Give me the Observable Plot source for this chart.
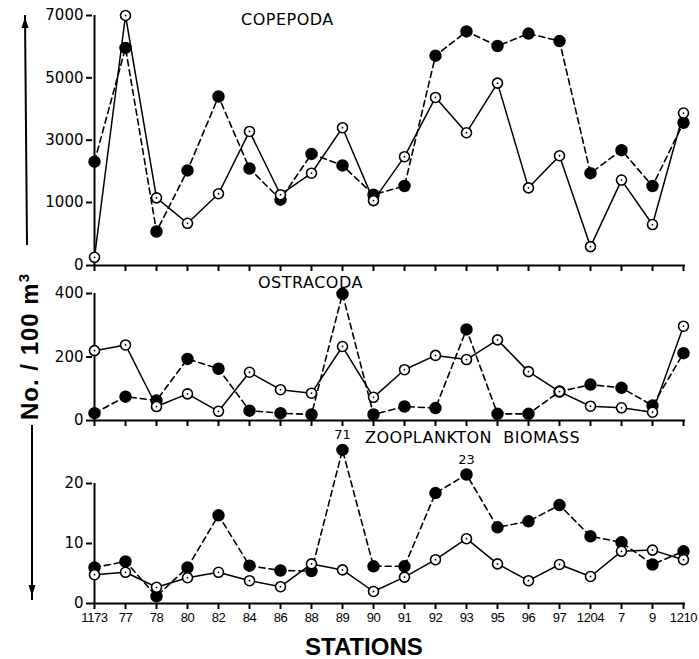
<!DOCTYPE html>
<html><head><meta charset="utf-8">
<script src="https://cdn.jsdelivr.net/npm/d3@7"></script>
<script src="https://cdn.jsdelivr.net/npm/@observablehq/plot@0.6"></script>
<style>
body{margin:0;background:#fff;}
#chart{position:relative;width:699px;height:659px;background:#fff;}
#chart > svg{position:absolute;left:0;top:0;}
#chart [aria-label^="x-axis"] path, #chart [aria-label^="x-axis"] line,
#chart [aria-label^="y-axis"] path, #chart [aria-label^="y-axis"] line{stroke-width:2;stroke:#000;}
#chart [aria-label^="y-axis"] text{font-size:15px;}
#chart [aria-label^="x-axis"] text{font-size:13px;font-family:"Liberation Sans",Arial,sans-serif;letter-spacing:-0.4px;}
</style></head><body><div id="chart"></div>
<script>
const W = 699, H = 659;
const stations = ["1173","77","78","80","82","84","86","88","89","90","91","92","93","95","96","97","1204","7","9","1210"];

const copepodaOpen   = [130, 7000, 1150, 670, 1280, 3280, 1250, 1940, 3400, 1060, 2470, 4370, 3240, 4830, 1470, 2500, 300, 1720, 650, 3870];
const copepodaFilled = [2310, 5960, 540, 2030, 4400, 2090, 1090, 2560, 2190, 1250, 1530, 5710, 6490, 6020, 6420, 6180, 1940, 2680, 1530, 3560];
const copepodaTicks  = [0, 1000, 3000, 5000, 7000];

const ostracodaOpen   = [220, 238, 44, 84, 29, 152, 97, 86, 233, 73, 160, 205, 192, 254, 154, 91, 45, 40, 26, 297];
const ostracodaFilled = [23, 75, 63, 194, 163, 31, 23, 19, 399, 19, 44, 39, 287, 21, 21, 91, 113, 103, 47, 212];
const ostracodaTicks  = [0, 200, 400];

const biomassOpen   = [4.8, 5.2, 2.7, 4.3, 5.2, 3.8, 2.8, 6.6, 5.6, 2.0, 4.4, 7.3, 10.8, 6.6, 3.8, 6.5, 4.5, 8.7, 8.9, 7.3];
const biomassFilled = [6.0, 7.0, 1.2, 6.0, 14.7, 6.3, 5.5, 5.4, 25.6, 6.2, 6.2, 18.4, 21.5, 12.7, 13.7, 16.4, 11.2, 10.2, 6.5, 8.7];
const biomassTicks  = [0, 10, 20];
const biomassNotes  = [{s: "89", v: 25.6, t: "71"}, {s: "93", v: 21.5, t: "23"}];

const titles = [
  {t: "COPEPODA", x: 241, y: 25},
  {t: "OSTRACODA", x: 258, y: 288},
  {t: "ZOOPLANKTON  BIOMASS", x: 365, y: 443}
];

function panel({open, filled, domain, range, ticks, showX, notes = []}) {
  const ro = stations.map((s, i) => ({s, v: open[i]}));
  const rf = stations.map((s, i) => ({s, v: filled[i]}));
  const bottom = range[0], top = range[range.length - 1];
  return Plot.plot({
    width: W, height: H,
    marginLeft: 92, marginRight: 14, marginTop: top, marginBottom: H - bottom,
    style: {background: "transparent", fontFamily: "DejaVu Sans, sans-serif", fontSize: "14px", color: "#000", overflow: "visible"},
    x: {type: "point", domain: stations, range: [92, 685], padding: 0, align: 0.5, tickSize: 6, tickPadding: 3,
        tickFormat: showX ? (d => d) : (() => ""), label: null},
    y: {type: "linear", domain, range, ticks, tickSize: 6, tickPadding: 3, label: null, tickFormat: d => String(d)},
    marks: [
      Plot.ruleY([domain[0]], {stroke: "#000", strokeWidth: 2}),
      Plot.ruleX([stations[0]], {y1: domain[0], y2: domain[domain.length - 1], stroke: "#000", strokeWidth: 2}),
      Plot.line(rf, {x: "s", y: "v", stroke: "#000", strokeWidth: 1.6, strokeDasharray: "6,4"}),
      Plot.line(ro, {x: "s", y: "v", stroke: "#000", strokeWidth: 1.5}),
      Plot.dot(rf, {x: "s", y: "v", r: 5.5, fill: "#000", stroke: "#000"}),
      Plot.dot(ro, {x: "s", y: "v", r: 5, fill: "#fff", stroke: "#000", strokeWidth: 1.6}),
      Plot.dot(ro, {x: "s", y: "v", r: 0.9, fill: "#000"}),
      Plot.text(notes, {x: "s", y: "v", text: "t", dy: -15, fontSize: 13, fill: "#000"})
    ]
  });
}

const chart = document.getElementById("chart");
chart.append(panel({open: copepodaOpen, filled: copepodaFilled, domain: [0, 1000, 7000], range: [265, 202, 15], ticks: copepodaTicks, showX: false}));
chart.append(panel({open: ostracodaOpen, filled: ostracodaFilled, domain: [0, 400], range: [420, 293], ticks: ostracodaTicks, showX: false}));
chart.append(panel({open: biomassOpen, filled: biomassFilled, domain: [0, 20], range: [603, 483], ticks: biomassTicks, showX: true, notes: biomassNotes}));

// decorations: titles, axis labels, arrows
const ns = "http://www.w3.org/2000/svg";
const deco = document.createElementNS(ns, "svg");
deco.setAttribute("width", W); deco.setAttribute("height", H);
let html = "";
for (const d of titles) {
  html += `<text x="${d.x}" y="${d.y}" font-family="DejaVu Sans, sans-serif" font-size="16" letter-spacing="0.5" xml:space="preserve" style="white-space:pre">${d.t}</text>`;
}
html += `<text x="305" y="655" font-family="Liberation Sans, Arial, sans-serif" font-weight="bold" font-size="24">STATIONS</text>`;
html += `<text transform="translate(38,420) rotate(-90)" font-family="Liberation Sans, Arial, sans-serif" font-weight="bold" font-size="24" letter-spacing="1" xml:space="preserve" style="white-space:pre">No. / 100 m<tspan dy="-9" font-size="15">3</tspan></text>`;
html += `<path d="M25,15 L27,245" stroke="#000" stroke-width="2" fill="none"/>`;
html += `<path d="M25,17 L21.5,28 L28.5,28 Z" fill="#000"/>`;
html += `<path d="M32,425 L32,600" stroke="#000" stroke-width="2" fill="none"/>`;
html += `<path d="M32,596 L28.5,585 L35.5,585 Z" fill="#000"/>`;
deco.innerHTML = html;
chart.append(deco);
</script>
</body></html>
